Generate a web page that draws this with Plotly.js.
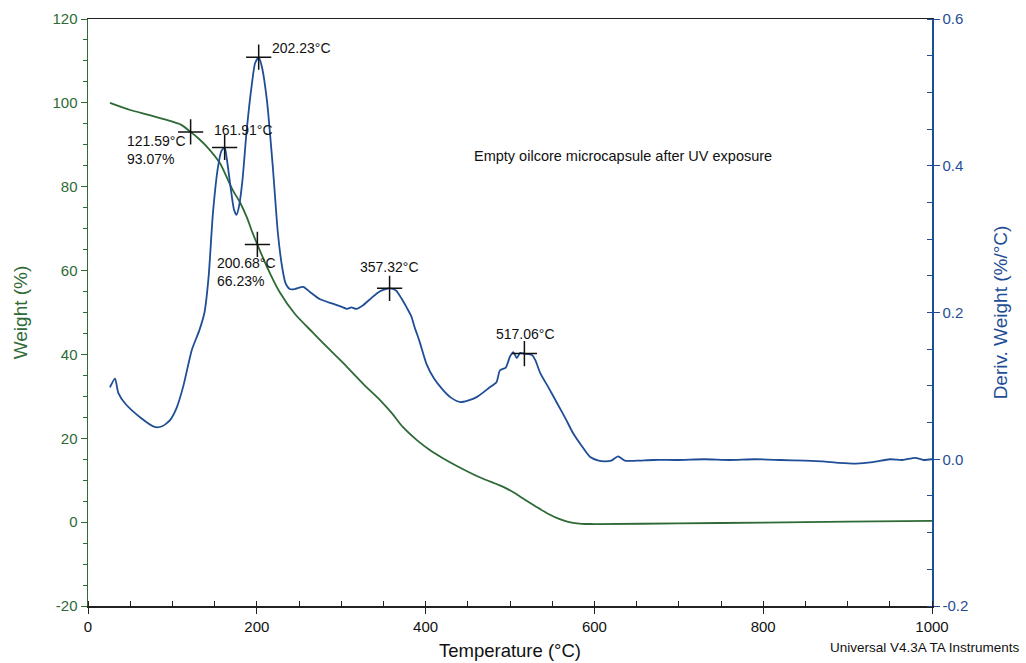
<!DOCTYPE html>
<html><head><meta charset="utf-8">
<script src="https://cdn.plot.ly/plotly-3.0.1.min.js"></script>
<style>html,body{margin:0;padding:0;background:#fff}#chart{width:1026px;height:663px}</style>
</head><body><div id="chart"></div>
<script>
// Weight (%) curve
const weightT = [26, 50, 73, 97, 110, 121.59, 131, 141, 156, 165, 172, 180, 188, 195, 200.68, 212, 227, 245, 267, 287, 307, 326, 346, 360, 373, 390, 405, 420, 437, 464, 492, 505, 515, 530, 545, 559, 570, 585, 600, 700, 800, 900, 1000];
const weightW = [100, 98.3, 97.1, 95.7, 94.8, 93.07, 91.5, 89.5, 85.7, 82, 79, 76.3, 72.8, 69, 66.23, 60.9, 54.9, 49.7, 45.1, 41, 37, 33, 29.1, 26, 22.7, 19.5, 17.2, 15.3, 13.4, 10.7, 8.4, 7, 5.7, 3.8, 2, 0.7, 0, -0.4, -0.45, -0.3, -0.1, 0.1, 0.3];
// Derivative weight (%/°C) curve
const derivT = [26, 32, 36, 44, 62, 79, 88, 97, 105, 113, 123, 132, 138, 143, 148, 154, 158, 161.91, 165, 169, 173, 176, 179, 183, 188, 194, 198, 202.23, 206, 212, 219, 225, 230, 234, 239, 245, 255, 263, 275, 290, 300, 307, 312, 318, 326, 336, 346, 357.32, 365, 372, 378, 383, 387, 393, 401, 410, 421, 430, 441, 450, 461, 476, 484, 488, 495, 500, 504, 508, 512, 517.06, 526, 530, 536, 546, 556, 566, 575, 585, 595, 605, 612, 620, 628, 636, 650, 670, 700, 730, 760, 790, 820, 850, 870, 890, 910, 930, 950, 965, 980, 990, 1000];
const derivD = [0.098, 0.110, 0.090, 0.076, 0.057, 0.044, 0.045, 0.053, 0.070, 0.100, 0.149, 0.176, 0.200, 0.250, 0.335, 0.398, 0.420, 0.425, 0.405, 0.370, 0.340, 0.333, 0.345, 0.380, 0.448, 0.510, 0.540, 0.548, 0.535, 0.489, 0.398, 0.308, 0.262, 0.240, 0.232, 0.232, 0.235, 0.228, 0.218, 0.212, 0.208, 0.205, 0.207, 0.205, 0.210, 0.220, 0.229, 0.233, 0.230, 0.218, 0.206, 0.195, 0.180, 0.160, 0.130, 0.110, 0.094, 0.084, 0.078, 0.080, 0.085, 0.098, 0.105, 0.121, 0.125, 0.140, 0.146, 0.138, 0.145, 0.144, 0.142, 0.135, 0.117, 0.097, 0.076, 0.055, 0.035, 0.018, 0.003, -0.002, -0.003, -0.002, 0.004, -0.002, -0.002, -0.001, -0.001, 0.000, -0.001, 0.000, -0.001, -0.002, -0.003, -0.005, -0.006, -0.004, 0.000, -0.001, 0.002, -0.001, 0.000];
// Marked points
const wMarkT = [121.59, 200.68];
const wMarkW = [93.07, 66.23];
const dMarkT = [161.91, 202.23, 357.32, 517.06];
const dMarkD = [0.425, 0.548, 0.233, 0.144];
const labels = [
  {t: 43.8, w: 88.8, text: '121.59°C<br>93.07%'},
  {t: 147, w: 93.6, text: '161.91°C'},
  {t: 215.6, w: 113.1, text: '202.23°C'},
  {t: 150.5, w: 59.7, text: '200.68°C<br>66.23%'},
  {t: 320, w: 60.9, text: '357.32°C'},
  {t: 481, w: 44.9, text: '517.06°C'}
];
const green = '#2e6a36';
const blue = '#1f4e96';
const font = 'Liberation Sans, Arial, sans-serif';

const traces = [
  {x: weightT, y: weightW, type: 'scatter', mode: 'lines', line: {color: green, width: 1.8, shape: 'spline', smoothing: 0.8}, yaxis: 'y', hoverinfo: 'skip'},
  {x: derivT, y: derivD, type: 'scatter', mode: 'lines', line: {color: blue, width: 1.8, shape: 'spline', smoothing: 0.6}, yaxis: 'y2', hoverinfo: 'skip'},
  {x: wMarkT, y: wMarkW, type: 'scatter', mode: 'markers', marker: {symbol: 'cross-thin-open', size: 18, color: '#111', line: {color: '#111', width: 1.5}}, yaxis: 'y'},
  {x: dMarkT, y: dMarkD, type: 'scatter', mode: 'markers', marker: {symbol: 'cross-thin-open', size: 18, color: '#111', line: {color: '#111', width: 1.5}}, yaxis: 'y2'}
];

const annotations = labels.map(l => ({x: l.t, y: l.w, xref: 'x', yref: 'y', text: l.text, showarrow: false, xanchor: 'left', yanchor: 'middle', align: 'left', font: {family: font, size: 14, color: '#111'}}));
annotations.push({x: 455, y: 87.4, xref: 'x', yref: 'y', text: 'Empty oilcore microcapsule after UV exposure', showarrow: false, xanchor: 'left', yanchor: 'middle', font: {family: font, size: 14.5, color: '#111'}});
annotations.push({x: 1.1066, y: -0.07, xref: 'paper', yref: 'paper', xanchor: 'right', yanchor: 'middle', text: 'Universal V4.3A TA Instruments', showarrow: false, font: {family: font, size: 13.5, color: '#111'}});

const layout = {
  width: 1026, height: 663,
  margin: {l: 88, r: 94, t: 19, b: 57},
  paper_bgcolor: '#fff', plot_bgcolor: '#fff',
  showlegend: false,
  font: {family: font, size: 14, color: '#111'},
  xaxis: {
    range: [0, 1000], tickvals: [0, 200, 400, 600, 800, 1000], showgrid: false, zeroline: false,
    showline: true, linecolor: '#222', linewidth: 1.5, mirror: true,
    ticks: 'outside', ticklen: 6, tickcolor: '#222',
    minor: {dtick: 50, ticks: 'inside', ticklen: 5, tickcolor: '#222'},
    tickfont: {family: font, size: 15, color: '#111'},
    title: {text: 'Temperature (°C)', font: {family: font, size: 18.5, color: '#111'}, standoff: 10}
  },
  yaxis: {
    range: [-20, 120], tickvals: [-20, 0, 20, 40, 60, 80, 100, 120], ticktext: ['-20', '0', '20', '40', '60', '80', '100', '120'],
    showgrid: false, zeroline: false,
    showline: true, linecolor: green, linewidth: 1.5,
    ticks: 'outside', ticklen: 6, tickcolor: green,
    minor: {dtick: 5, ticks: 'outside', ticklen: 4, tickcolor: green},
    tickfont: {family: font, size: 15, color: green},
    title: {text: 'Weight (%)', font: {family: font, size: 19, color: green}, standoff: 20}
  },
  yaxis2: {
    range: [-0.2, 0.6], tickvals: [-0.2, 0, 0.2, 0.4, 0.6], ticktext: ['-0.2', '0.0', '0.2', '0.4', '0.6'],
    overlaying: 'y', side: 'right', showgrid: false, zeroline: false,
    showline: true, linecolor: blue, linewidth: 1.5,
    ticks: 'outside', ticklen: 6, tickcolor: blue,
    minor: {dtick: 0.05, ticks: 'inside', ticklen: 5, tickcolor: blue},
    tickfont: {family: font, size: 15, color: blue},
    title: {text: 'Deriv. Weight (%/°C)', font: {family: font, size: 19, color: blue}, standoff: 26}
  },
  annotations: annotations
};
Plotly.newPlot('chart', traces, layout, {displayModeBar: false, staticPlot: true});
</script></body></html>
